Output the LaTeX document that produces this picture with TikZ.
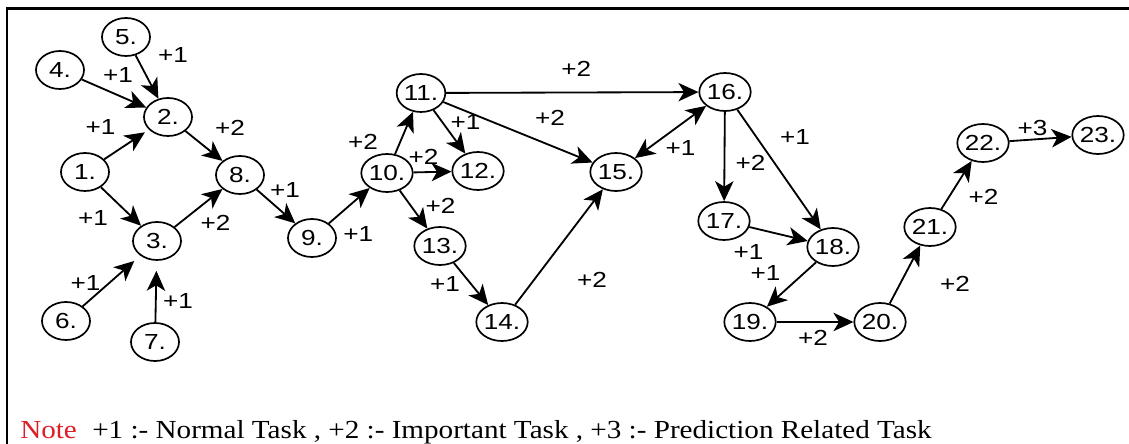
\documentclass[tikz,border=0pt]{standalone}
\usepackage{fontspec}
\usepackage{xcolor}
\usetikzlibrary{shapes.geometric, arrows.meta}
\newfontfamily\arialf[FakeStretch=1.2]{Liberation Sans}
\newfontfamily\timesf[FakeStretch=1.12]{Liberation Serif}
\definecolor{notered}{RGB}{220,30,40}
\tikzset{tip/.tip={Stealth[length=5mm, width=4.6mm, inset=1.4mm]}}

\begin{document}
\begin{tikzpicture}[
		x=0.025cm, y=-0.025cm,
		task/.style={ellipse, draw, line width=1.2pt, minimum width=1.2cm, minimum height=0.95cm, inner sep=0pt, font=\arialf\fontsize{15.5}{15.5}\selectfont},
		arr/.style={-tip, line width=1.3pt},
		lbl/.style={font=\arialf\fontsize{15.5}{15.5}\selectfont, inner sep=0pt}
		]
		\useasboundingbox (0,0) rectangle (1129,444);
		% Rahmen (oben und links)
		\draw[line width=1.5pt] (7,444) -- (7,8.5) -- (1129,8.5);
		
		% Aufgaben
		\node[task] (t1) at (85,172) {1.};
		\node[task] (t2) at (168,117) {2.};
		\node[task] (t3) at (157,241) {3.};
		\node[task] (t4) at (60,70) {4.};
		\node[task] (t5) at (126,37) {5.};
		\node[task] (t6) at (66,321) {6.};
		\node[task] (t7) at (155,342) {7.};
		\node[task] (t8) at (240,175) {8.};
		\node[task] (t9) at (312,238) {9.};
		\node[task] (t10) at (387,173) {10.};
		\node[task] (t11) at (421,93) {11.};
		\node[task] (t12) at (478,171) {12.};
		\node[task] (t13) at (440,246) {13.};
		\node[task] (t14) at (502,322) {14.};
		\node[task] (t15) at (616,172) {15.};
		\node[task] (t16) at (725,92) {16.};
		\node[task] (t17) at (724,221) {17.};
		\node[task] (t18) at (833,247) {18.};
		\node[task] (t19) at (750,322) {19.};
		\node[task] (t20) at (880,322) {20.};
		\node[task] (t21) at (930,227) {21.};
		\node[task] (t22) at (983,143) {22.};
		\node[task] (t23) at (1098,135) {23.};
		
		% linker Teil
		\draw[arr, shorten >=1.2mm] (t1) -- node[lbl, shift={(-26,-17)}] {+1} (t2);
		\draw[arr] (t1) -- node[lbl, shift={(-28,12)}] {+1} (t3);
		\draw[arr] (t4) -- node[lbl, shift={(4,-18)}] {+1} (t2);
		\draw[arr] (t5) -- node[lbl, shift={(26,-22)}] {+1} (t2);
		\draw[arr] (t2) -- node[lbl, shift={(26,-18)}] {+2} (t8);
		\draw[arr] (t3) -- node[lbl, shift={(17,15)}] {+2} (t8);
		\draw[arr, shorten >=2mm] (t6) -- node[lbl, shift={(-26,2)}] {+1} (t3);
		\draw[arr, shorten >=2.5mm] (t7) -- node[lbl, shift={(22,10)}] {+1} (t3);
		\draw[arr] (t8) -- node[lbl, shift={(9,-16)}] {+1} (t9);
		\draw[arr] (t9) -- node[lbl, shift={(9,28)}] {+1} (t10);
		
		% mittlerer Teil
		\draw[arr] (t10) -- node[lbl, shift={(-41,9)}] {+2} (t11);
		\draw[arr] (t10) -- node[lbl, shift={(-9,-15)}] {+2} (t12);
		\draw[arr] (t11) -- node[lbl, shift={(16,-10)}] {+1} (t12);
		\draw[arr] (t10) -- node[lbl, shift={(27,-4)}] {+2} (t13);
		\draw[arr] (t11) -- node[lbl, shift={(32,-14)}] {+2} (t15);
		\draw[arr] (t11) -- node[lbl, shift={(4,-24)}] {+2} (t16);
		\draw[arr] (t13) -- node[lbl, shift={(-26,0)}] {+1} (t14);
		\draw[arr] (t14) -- node[lbl, shift={(33,33)}] {+2} (t15);
		\draw[arr, tip-tip] (t15) -- node[lbl, shift={(10,16)}] {+1} (t16);
		
		% rechter Teil
		\draw[arr] (t16) -- node[lbl, shift={(26,6)}] {+2} (t17);
		\draw[arr] (t16) -- node[lbl, shift={(16,-32)}] {+1} (t18);
		\draw[arr] (t17) -- node[lbl, shift={(-30,18)}] {+1} (t18);
		\draw[arr] (t18) -- node[lbl, shift={(-26,-11)}] {+1} (t19);
		\draw[arr] (t19) -- node[lbl, shift={(-2,16)}] {+2} (t20);
		\draw[arr] (t20) -- node[lbl, shift={(50,9)}] {+2} (t21);
		\draw[arr] (t21) -- node[lbl, shift={(27,12)}] {+2} (t22);
		\draw[arr] (t22) -- node[lbl, shift={(-8,-11)}] {+3} (t23);
		
		% Legende
		\node[anchor=base west, inner sep=0pt, text=notered, font=\timesf\fontsize{18.5}{18.5}\selectfont] (note) at (20,439) {Note};
		\node[anchor=base west, inner sep=0pt, font=\timesf\fontsize{18.5}{18.5}\selectfont] (legend) at (92,439) {+1 :- Normal Task , +2 :- Important Task , +3 :- Prediction Related Task};
	\end{tikzpicture}
\end{document}
